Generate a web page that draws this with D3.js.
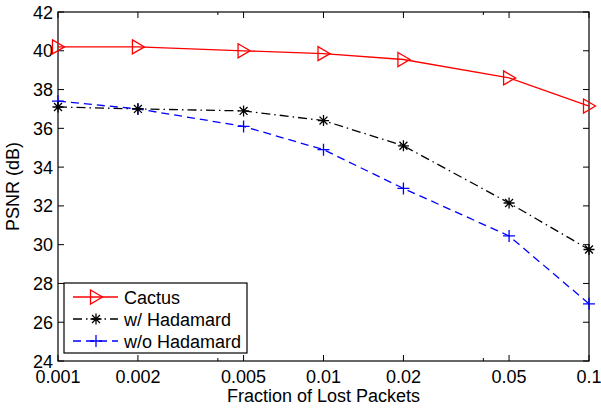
<!DOCTYPE html>
<html>
<head>
<meta charset="utf-8">
<script src="https://d3js.org/d3.v7.min.js"></script>
<style>
  body { margin: 0; background: #fff; }
  text { font-family: "Liberation Sans", Arial, sans-serif; }
</style>
</head>
<body>
<div id="chart"></div>
<script>
// data
var lossRates = [0.001, 0.002, 0.005, 0.01, 0.02, 0.05, 0.1];
var cactus    = [40.2, 40.2, 40.0, 39.85, 39.55, 38.6, 37.15];
var withHad   = [37.1, 37.0, 36.9, 36.4, 35.1, 32.15, 29.75];
var withoutHad = [37.4, 37.0, 36.1, 34.9, 32.9, 30.45, 26.95];
var xTicks = [0.001, 0.002, 0.005, 0.01, 0.02, 0.05, 0.1];
var xTickLabels = ["0.001", "0.002", "0.005", "0.01", "0.02", "0.05", "0.1"];
var xMinorTicks = [0.004, 0.04];
var yTicks = [24, 26, 28, 30, 32, 34, 36, 38, 40, 42];

var W = 601, H = 412;
var pLeft = 58, pRight = 589, pTop = 12, pBottom = 361;

var svg = d3.select("#chart").append("svg")
    .attr("width", W).attr("height", H);

var x = d3.scaleLog().domain([0.001, 0.1]).range([pLeft, pRight]);
var y = d3.scaleLinear().domain([24, 42]).range([pBottom, pTop]);

// frame
svg.append("rect")
    .attr("x", pLeft).attr("y", pTop)
    .attr("width", pRight - pLeft).attr("height", pBottom - pTop)
    .attr("fill", "none").attr("stroke", "#000").attr("stroke-width", 1.2);

// ticks (inward, both sides)
var tk = svg.append("g").attr("stroke", "#000").attr("stroke-width", 1);
xTicks.forEach(function(t) {
  tk.append("line").attr("x1", x(t)).attr("x2", x(t)).attr("y1", pBottom).attr("y2", pBottom - 6);
  tk.append("line").attr("x1", x(t)).attr("x2", x(t)).attr("y1", pTop).attr("y2", pTop + 6);
});
xMinorTicks.forEach(function(t) {
  tk.append("line").attr("x1", x(t)).attr("x2", x(t)).attr("y1", pBottom).attr("y2", pBottom - 3);
  tk.append("line").attr("x1", x(t)).attr("x2", x(t)).attr("y1", pTop).attr("y2", pTop + 3);
});
yTicks.forEach(function(t) {
  tk.append("line").attr("x1", pLeft).attr("x2", pLeft + 6).attr("y1", y(t)).attr("y2", y(t));
  tk.append("line").attr("x1", pRight).attr("x2", pRight - 6).attr("y1", y(t)).attr("y2", y(t));
});

// tick labels
svg.append("g").selectAll("text").data(xTicks).enter().append("text")
    .attr("x", function(d) { return x(d); })
    .attr("y", 383)
    .attr("text-anchor", "middle")
    .attr("font-size", 18)
    .text(function(d, i) { return xTickLabels[i]; });

svg.append("g").selectAll("text").data(yTicks).enter().append("text")
    .attr("x", pLeft - 5)
    .attr("y", function(d) { return y(d) + 6.5; })
    .attr("text-anchor", "end")
    .attr("font-size", 18)
    .text(function(d) { return d; });

// axis titles
svg.append("text")
    .attr("x", (pLeft + pRight) / 2).attr("y", 402)
    .attr("text-anchor", "middle").attr("font-size", 18)
    .text("Fraction of Lost Packets");
svg.append("text")
    .attr("transform", "translate(19," + ((pTop + pBottom) / 2) + ") rotate(-90)")
    .attr("text-anchor", "middle").attr("font-size", 18)
    .text("PSNR (dB)");

// marker drawing
function triRight(g, cx, cy, color) {
  g.append("path")
    .attr("d", "M" + (cx - 5.5) + "," + (cy - 7) + "L" + (cx + 6.5) + "," + cy + "L" + (cx - 5.5) + "," + (cy + 7) + "Z")
    .attr("fill", "none").attr("stroke", color).attr("stroke-width", 1.3);
}
function star(g, cx, cy, color) {
  var r = 5.5, d = r * 0.72;
  var p = "M" + (cx - r) + "," + cy + "h" + (2 * r) +
          "M" + cx + "," + (cy - r) + "v" + (2 * r) +
          "M" + (cx - d) + "," + (cy - d) + "l" + (2 * d) + "," + (2 * d) +
          "M" + (cx - d) + "," + (cy + d) + "l" + (2 * d) + "," + (-2 * d);
  g.append("path").attr("d", p).attr("stroke", color).attr("stroke-width", 1.3).attr("fill", "none");
}
function plus(g, cx, cy, color) {
  var r = 6;
  g.append("path")
    .attr("d", "M" + (cx - r) + "," + cy + "h" + (2 * r) + "M" + cx + "," + (cy - r) + "v" + (2 * r))
    .attr("stroke", color).attr("stroke-width", 1.3).attr("fill", "none");
}

var series = [
  { name: "Cactus", vals: cactus, color: "#ff0000", dash: null, marker: triRight },
  { name: "w/ Hadamard", vals: withHad, color: "#000000", dash: "9,4,1.5,4", marker: star },
  { name: "w/o Hadamard", vals: withoutHad, color: "#0000ff", dash: "8,5", marker: plus }
];

var line = d3.line()
    .x(function(d) { return x(d[0]); })
    .y(function(d) { return y(d[1]); });

var plot = svg.append("g");
series.slice().reverse().forEach(function(s) {
  var pts = lossRates.map(function(r, i) { return [r, s.vals[i]]; });
  plot.append("path").datum(pts)
    .attr("d", line)
    .attr("fill", "none")
    .attr("stroke", s.color)
    .attr("stroke-width", 1.3)
    .attr("stroke-dasharray", s.dash);
  pts.forEach(function(p) { s.marker(plot, x(p[0]), y(p[1]), s.color); });
});

// legend
var lg = svg.append("g");
lg.append("rect")
    .attr("x", 64).attr("y", 283).attr("width", 183).attr("height", 70)
    .attr("fill", "#fff").attr("stroke", "#000").attr("stroke-width", 1.2);
series.forEach(function(s, i) {
  var ly = 297 + i * 22;
  lg.append("line")
    .attr("x1", 73).attr("x2", 118).attr("y1", ly).attr("y2", ly)
    .attr("stroke", s.color).attr("stroke-width", 1.3)
    .attr("stroke-dasharray", s.dash);
  s.marker(lg, 96, ly, s.color);
  lg.append("text")
    .attr("x", 124).attr("y", ly + 6.5)
    .attr("font-size", 18)
    .text(s.name);
});
</script>
</body>
</html>
